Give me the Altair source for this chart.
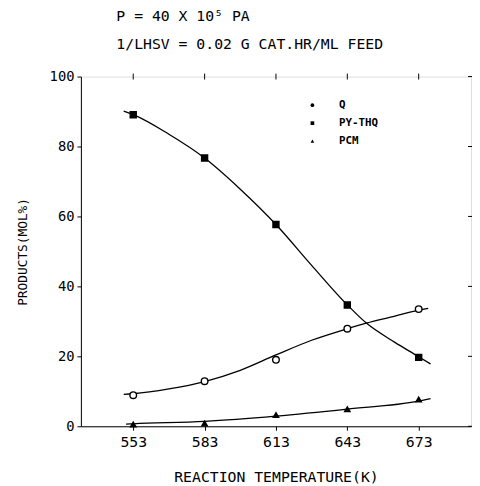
import altair as alt
import pandas as pd

# measured points
temps = [553, 583, 613, 643, 673]
q_vals = [8.9, 12.9, 19.0, 27.9, 33.5]
py_vals = [89.1, 76.7, 57.7, 34.7, 19.7]
pcm_vals = [0.5, 0.8, 3.2, 4.9, 7.7]

# fitted curves
q_curve_x = [549, 553, 568, 583, 598, 613, 628, 643, 651, 663, 673, 677]
q_curve_y = [9.1, 9.3, 10.7, 12.8, 16.0, 20.4, 24.6, 27.9, 29.5, 31.5, 33.2, 33.7]
py_curve_x = [549, 553, 568, 583, 598, 613, 628, 643, 651, 663, 673, 678]
py_curve_y = [90.1, 89.1, 83.5, 76.7, 67.8, 57.7, 46.0, 34.7, 29.5, 24.0, 19.9, 17.8]
pcm_curve_x = [550, 553, 583, 613, 643, 673, 678]
pcm_curve_y = [0.6, 0.7, 1.4, 2.9, 4.9, 7.2, 7.9]

series = ["Q", "PY-THQ", "PCM"]
shapes = ["circle", "square", "triangle-up"]
x_ticks = [553, 583, 613, 643, 673]
y_ticks = [0, 20, 40, 60, 80, 100]
x_domain = [531, 695]
y_domain = [0, 100]

title_lines = ["P = 40 X 10\u2075 PA", "1/LHSV = 0.02 G CAT.HR/ML FEED"]
x_title = "REACTION TEMPERATURE(K)"
y_title = "PRODUCTS(MOL%)"

FONT = "DejaVu Sans Mono"

pts = pd.DataFrame({
    "T": temps * 3,
    "v": q_vals + py_vals + pcm_vals,
    "s": ["Q"] * 5 + ["PY-THQ"] * 5 + ["PCM"] * 5,
})
pts["f"] = pts["s"]
pts["z"] = pts["s"]
curves = pd.DataFrame({
    "T": q_curve_x + py_curve_x + pcm_curve_x,
    "v": q_curve_y + py_curve_y + pcm_curve_y,
    "s": ["Q"] * len(q_curve_x) + ["PY-THQ"] * len(py_curve_x) + ["PCM"] * len(pcm_curve_x),
})
xt = pd.DataFrame({"T": x_ticks})
yt = pd.DataFrame({"v": y_ticks})

xs = alt.Scale(domain=x_domain, nice=False, zero=False)
ys = alt.Scale(domain=y_domain, nice=False)

x_axis = alt.Axis(values=x_ticks, title=x_title, grid=False, tickSize=4, labelPadding=5,
                  titlePadding=20, labelFont=FONT, titleFont=FONT, labelFontSize=15,
                  titleFontSize=15, titleFontWeight="normal", labelColor="black",
                  titleColor="black", domainColor="black", tickColor="black")
y_axis = alt.Axis(values=y_ticks, title=y_title, grid=False, tickSize=4, labelPadding=3,
                  titlePadding=20, labelFont=FONT, titleFont=FONT, labelFontSize=14,
                  titleFontSize=13, titleFontWeight="normal", labelColor="black",
                  titleColor="black", domainColor="black", tickColor="black")

lines = alt.Chart(curves).mark_line(color="black", strokeWidth=1.3, interpolate="monotone").encode(
    x=alt.X("T:Q", scale=xs, axis=x_axis),
    y=alt.Y("v:Q", scale=ys, axis=y_axis),
    detail="s:N",
)

points = alt.Chart(pts).mark_point(strokeWidth=1.4, opacity=1).encode(
    x=alt.X("T:Q", scale=xs),
    y=alt.Y("v:Q", scale=ys),
    shape=alt.Shape("s:N", scale=alt.Scale(domain=series, range=shapes), legend=None),
    fill=alt.Fill("f:N", scale=alt.Scale(domain=series, range=["white", "black", "black"]), legend=None),
    size=alt.Size("z:N", scale=alt.Scale(domain=series, range=[45, 30, 25]), legend=None),
    color=alt.value("black"),
)

# mirrored ticks on the top and right frame edges
top_ticks = alt.Chart(xt).mark_rule(color="black", strokeWidth=1).encode(
    x=alt.X("T:Q", scale=xs), y=alt.value(-3), y2=alt.value(3)
)
right_ticks = alt.Chart(yt).mark_rule(color="black", strokeWidth=1).encode(
    y=alt.Y("v:Q", scale=ys), x=alt.value(393), x2=alt.value(399)
)

# key (inside the plot, upper right)
key_layers = []
for i, (name, shp) in enumerate(zip(series, shapes)):
    row_y = 29 + 18.3 * i
    kd = pd.DataFrame({"s": [name]})
    key_layers.append(
        alt.Chart(kd).mark_point(shape=shp, filled=True, color="black", size=14, opacity=1).encode(
            x=alt.value(235), y=alt.value(row_y))
    )
    key_layers.append(
        alt.Chart(kd).mark_text(align="left", baseline="middle", font=FONT, fontSize=11,
                                fontWeight="bold", color="black").encode(
            x=alt.value(262), y=alt.value(row_y), text="s:N")
    )

chart = alt.layer(lines, points, top_ticks, right_ticks, *key_layers).properties(
    width=396,
    height=355,
    autosize=alt.AutoSizeParams(type="none"),
    padding={"left": 74, "top": 66, "right": 1, "bottom": 55},
    title=alt.TitleParams(text=title_lines, anchor="start", frame="group", dx=36, offset=18,
                          font=FONT, fontSize=15, fontWeight="normal", lineHeight=28,
                          color="black"),
).configure_view(stroke="black", strokeWidth=1.2).configure(background="white")

chart.save("out.html", embed_options={"renderer": "svg", "actions": False})
